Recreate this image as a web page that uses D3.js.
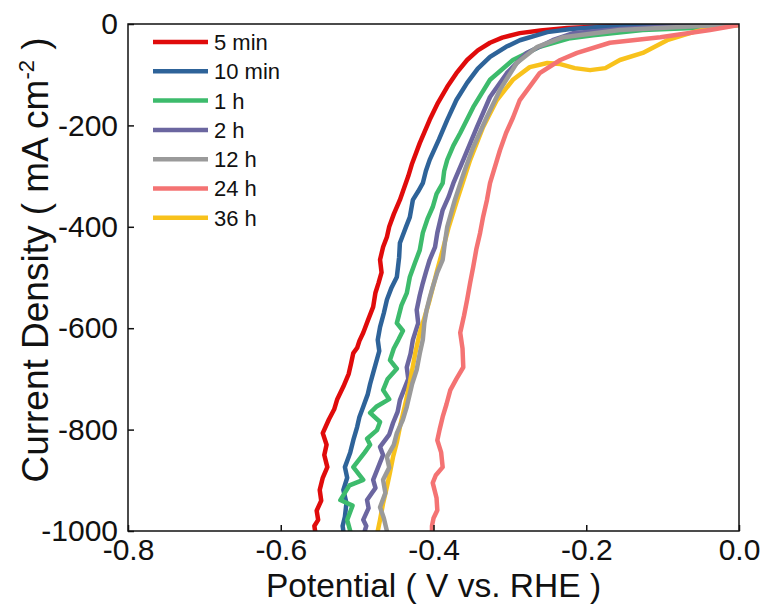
<!DOCTYPE html>
<html>
<head>
<meta charset="utf-8">
<script src="https://cdn.jsdelivr.net/npm/d3@7"></script>
<style>
  body { margin: 0; background: #fff; }
  svg text { font-family: "Liberation Sans", Arial, sans-serif; fill: #111; }
</style>
</head>
<body>
<svg id="chart" width="764" height="610"></svg>
<script>
// legend labels and colours
var labels = ['5 min', '10 min', '1 h', '2 h', '12 h', '24 h', '36 h'];
var colors = ['#e00b0b', '#2e6399', '#3dbb6c', '#6b66a0', '#9a9a9a', '#f47373', '#f8c21c'];
var xTicks = [-0.8, -0.6, -0.4, -0.2, 0.0];
var yTicks = [0, -200, -400, -600, -800, -1000];

// [potential (V vs RHE), current density (mA cm-2)]
var min5 = [[0,0],[-0.05,-1],[-0.117,-2],[-0.18,-5],[-0.225,-8],[-0.26,-13],[-0.287,-18],[-0.31,-27],[-0.326,-37],[-0.342,-52],[-0.356,-71],[-0.37,-97],[-0.382,-124],[-0.394,-155],[-0.405,-189],[-0.418,-235],[-0.428,-275],[-0.433,-300],[-0.44,-330],[-0.444,-347],[-0.452,-375],[-0.458,-400],[-0.461,-420],[-0.466,-440],[-0.470,-465],[-0.468,-490],[-0.472,-511],[-0.476,-530],[-0.479,-558],[-0.486,-585],[-0.492,-609],[-0.497,-625],[-0.500,-639],[-0.505,-649],[-0.508,-670],[-0.511,-690],[-0.518,-715],[-0.526,-740],[-0.530,-760],[-0.537,-780],[-0.545,-807],[-0.540,-830],[-0.543,-850],[-0.539,-874],[-0.545,-895],[-0.549,-919],[-0.547,-940],[-0.553,-960],[-0.551,-978],[-0.556,-990],[-0.555,-1000]];
var min10 = [[0,0],[-0.051,-1],[-0.12,-3],[-0.182,-6],[-0.22,-10],[-0.251,-16],[-0.287,-32],[-0.305,-45],[-0.326,-65],[-0.342,-88],[-0.356,-116],[-0.37,-150],[-0.382,-189],[-0.393,-228],[-0.405,-268],[-0.41,-290],[-0.414,-314],[-0.42,-330],[-0.427,-347],[-0.431,-381],[-0.436,-400],[-0.441,-420],[-0.444,-432],[-0.445,-460],[-0.448,-499],[-0.455,-520],[-0.461,-544],[-0.465,-570],[-0.470,-598],[-0.473,-623],[-0.471,-645],[-0.479,-688],[-0.483,-710],[-0.486,-730],[-0.492,-755],[-0.497,-775],[-0.500,-795],[-0.505,-821],[-0.509,-845],[-0.516,-874],[-0.513,-895],[-0.518,-919],[-0.514,-945],[-0.516,-972],[-0.519,-990],[-0.518,-1000]];
var h1 = [[0,-2],[-0.06,-8],[-0.126,-12],[-0.191,-22],[-0.221,-28],[-0.261,-45],[-0.296,-71],[-0.326,-110],[-0.348,-164],[-0.365,-215],[-0.374,-240],[-0.382,-268],[-0.386,-290],[-0.388,-314],[-0.396,-335],[-0.401,-361],[-0.408,-385],[-0.414,-412],[-0.418,-446],[-0.424,-470],[-0.431,-499],[-0.433,-515],[-0.435,-531],[-0.442,-555],[-0.448,-590],[-0.440,-605],[-0.446,-623],[-0.452,-640],[-0.457,-663],[-0.448,-680],[-0.460,-700],[-0.466,-722],[-0.458,-740],[-0.475,-755],[-0.483,-767],[-0.470,-785],[-0.474,-801],[-0.487,-818],[-0.483,-830],[-0.490,-845],[-0.505,-874],[-0.492,-899],[-0.510,-910],[-0.522,-939],[-0.506,-950],[-0.513,-978],[-0.509,-1000]];
var h2 = [[0,0],[-0.051,-2],[-0.156,-10],[-0.217,-18],[-0.244,-32],[-0.278,-57],[-0.304,-97],[-0.326,-144],[-0.343,-203],[-0.361,-268],[-0.374,-314],[-0.38,-340],[-0.388,-367],[-0.395,-412],[-0.398,-440],[-0.405,-465],[-0.41,-490],[-0.414,-511],[-0.418,-535],[-0.422,-564],[-0.420,-590],[-0.427,-623],[-0.430,-650],[-0.435,-677],[-0.433,-700],[-0.444,-742],[-0.447,-765],[-0.453,-787],[-0.458,-810],[-0.470,-834],[-0.466,-850],[-0.479,-899],[-0.476,-915],[-0.487,-939],[-0.485,-955],[-0.492,-978],[-0.488,-990],[-0.490,-1000]];
var h12 = [[0,0],[-0.051,-4],[-0.156,-12],[-0.23,-26],[-0.264,-45],[-0.291,-77],[-0.313,-130],[-0.330,-183],[-0.348,-243],[-0.359,-288],[-0.372,-347],[-0.382,-400],[-0.385,-430],[-0.388,-465],[-0.395,-490],[-0.401,-519],[-0.405,-540],[-0.409,-564],[-0.412,-590],[-0.414,-623],[-0.418,-650],[-0.422,-682],[-0.428,-710],[-0.435,-755],[-0.440,-780],[-0.448,-807],[-0.452,-830],[-0.461,-854],[-0.458,-875],[-0.466,-899],[-0.463,-925],[-0.470,-953],[-0.465,-975],[-0.461,-1000]];
var h24 = [[0,-2],[-0.038,-12],[-0.103,-26],[-0.169,-37],[-0.212,-57],[-0.234,-71],[-0.261,-97],[-0.287,-150],[-0.296,-185],[-0.305,-215],[-0.313,-249],[-0.326,-314],[-0.330,-347],[-0.335,-380],[-0.339,-412],[-0.344,-445],[-0.348,-479],[-0.352,-510],[-0.356,-544],[-0.360,-575],[-0.365,-609],[-0.362,-640],[-0.361,-677],[-0.370,-700],[-0.378,-722],[-0.383,-750],[-0.388,-775],[-0.392,-800],[-0.395,-821],[-0.390,-845],[-0.388,-874],[-0.397,-890],[-0.401,-905],[-0.396,-935],[-0.395,-959],[-0.400,-975],[-0.402,-990],[-0.402,-1000]];
var h36 = [[0,-2],[-0.038,-8],[-0.060,-16],[-0.094,-32],[-0.126,-57],[-0.156,-71],[-0.175,-87],[-0.195,-91],[-0.215,-87],[-0.234,-79],[-0.251,-77],[-0.274,-85],[-0.296,-110],[-0.317,-150],[-0.335,-203],[-0.352,-268],[-0.369,-347],[-0.38,-400],[-0.388,-446],[-0.395,-485],[-0.405,-544],[-0.412,-580],[-0.418,-609],[-0.424,-650],[-0.431,-708],[-0.437,-750],[-0.444,-795],[-0.448,-825],[-0.453,-854],[-0.457,-885],[-0.461,-913],[-0.466,-945],[-0.470,-978],[-0.473,-1000]];

var series = [min5, min10, h1, h2, h12, h24, h36];
var drawOrder = [0, 1, 2, 3, 6, 4, 5];

var svg = d3.select('#chart');
var plotL = 128, plotR = 739, plotT = 24, plotB = 531;

var x = d3.scaleLinear().domain([-0.8, 0]).range([plotL, plotR]);
var y = d3.scaleLinear().domain([-1000, 0]).range([plotB, plotT]);

svg.append('clipPath').attr('id', 'clip')
  .append('rect').attr('x', plotL).attr('y', plotT)
  .attr('width', plotR - plotL).attr('height', plotB - plotT);

var line = d3.line()
  .x(function(d) { return x(d[0]); })
  .y(function(d) { return y(d[1]); });

var curves = svg.append('g').attr('clip-path', 'url(#clip)');
drawOrder.forEach(function(i) {
  curves.append('path')
    .datum(series[i])
    .attr('fill', 'none')
    .attr('stroke', colors[i])
    .attr('stroke-width', 4.5)
    .attr('stroke-linejoin', 'round')
    .attr('stroke-linecap', 'round')
    .attr('d', line);
});

// axes, ticks pointing inward
var xAxis = svg.append('g').attr('transform', 'translate(0,' + plotB + ')')
  .call(d3.axisBottom(x).tickValues(xTicks)
    .tickSizeInner(-6).tickSizeOuter(0).tickPadding(8));
var yAxis = svg.append('g').attr('transform', 'translate(' + plotL + ',0)')
  .call(d3.axisLeft(y).tickValues(yTicks)
    .tickSizeInner(-6).tickSizeOuter(0).tickPadding(10));

[xAxis, yAxis].forEach(function(g) {
  g.select('.domain').remove();
  g.selectAll('.tick line').attr('stroke', '#111').attr('stroke-width', 1.5);
  g.selectAll('.tick text').attr('font-size', 30).attr('fill', '#111')
    .style('font-family', '"Liberation Sans", Arial, sans-serif');
});
xAxis.selectAll('.tick text').text(function(d) { return d.toFixed(1); });
yAxis.selectAll('.tick text').text(function(d) { return String(d); });

svg.append('rect')
  .attr('x', plotL).attr('y', plotT)
  .attr('width', plotR - plotL).attr('height', plotB - plotT)
  .attr('fill', 'none').attr('stroke', '#111').attr('stroke-width', 1.5);

// axis titles
svg.append('text')
  .attr('x', (plotL + plotR) / 2).attr('y', 597)
  .attr('text-anchor', 'middle').attr('font-size', 33.5)
  .text('Potential ( V vs. RHE )');

var yt = svg.append('text')
  .attr('transform', 'translate(48,260) rotate(-90)')
  .attr('text-anchor', 'middle').attr('font-size', 37);
yt.append('tspan').text('Current Density ( mA cm');
yt.append('tspan').attr('dy', -14).attr('font-size', 22).text('-2');
yt.append('tspan').attr('dy', 14).text(' )');

// legend
var legend = svg.append('g');
labels.forEach(function(lab, i) {
  var ly = 42 + i * 29.3;
  legend.append('line')
    .attr('x1', 153).attr('x2', 208).attr('y1', ly).attr('y2', ly)
    .attr('stroke', colors[i]).attr('stroke-width', 4.5);
  legend.append('text')
    .attr('x', 214).attr('y', ly).attr('dy', '0.36em')
    .attr('font-size', 22).text(lab);
});
</script>
</body>
</html>
